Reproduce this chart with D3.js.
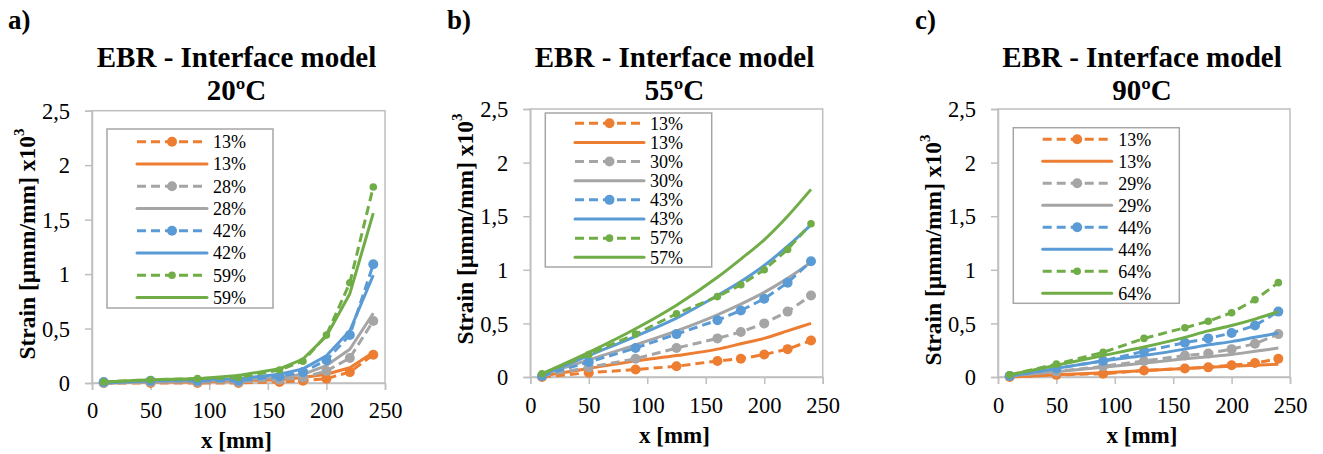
<!DOCTYPE html>
<html>
<head>
<meta charset="utf-8">
<script src="https://cdn.jsdelivr.net/npm/d3@7/dist/d3.min.js"></script>
<style>
  html, body { margin: 0; padding: 0; background: #ffffff; }
  svg { display: block; }
</style>
</head>
<body>
<svg id="chart" width="1323" height="454"></svg>
<script>
// ---- data -------------------------------------------------------------
// measurement / model positions along the bonded length [mm]
const xPositions = [10, 50, 90, 125, 160, 180, 200, 220, 240];
const xTickValues = [0, 50, 100, 150, 200, 250];
const yTickValues = [0, 0.5, 1, 1.5, 2, 2.5];
const yTickLabels = ["0", "0,5", "1", "1,5", "2", "2,5"];

const panelLetters = ["a)", "b)", "c)"];
const panelTemps = ["20ºC", "55ºC", "90ºC"];

// load levels for each temperature
const levels20 = ["13%", "28%", "42%", "59%"];
const levels55 = ["13%", "30%", "43%", "57%"];
const levels90 = ["13%", "29%", "44%", "64%"];

// 20ºC: experimental (dashed + markers) and model (solid) strains, x10^3
const exp20_13 = [0.00, 0.00, 0.00, 0.00, 0.01, 0.02, 0.04, 0.10, 0.26];
const mod20_13 = [0.00, 0.01, 0.01, 0.02, 0.03, 0.05, 0.08, 0.14, 0.28];
const exp20_28 = [0.00, 0.01, 0.01, 0.01, 0.03, 0.05, 0.11, 0.23, 0.57];
const mod20_28 = [0.00, 0.01, 0.02, 0.03, 0.05, 0.08, 0.16, 0.31, 0.64];
const exp20_42 = [0.01, 0.02, 0.02, 0.02, 0.06, 0.10, 0.21, 0.44, 1.09];
const mod20_42 = [0.00, 0.02, 0.03, 0.04, 0.08, 0.13, 0.25, 0.48, 0.99];
const exp20_59 = [0.01, 0.03, 0.04, 0.05, 0.12, 0.20, 0.44, 0.92, 1.80];
const mod20_59 = [0.01, 0.03, 0.04, 0.07, 0.13, 0.22, 0.43, 0.82, 1.56];

// 55ºC
const exp55_13 = [0.00, 0.04, 0.07, 0.10, 0.15, 0.17, 0.21, 0.26, 0.34];
const mod55_13 = [0.01, 0.08, 0.15, 0.20, 0.26, 0.31, 0.36, 0.43, 0.50];
const exp55_30 = [0.01, 0.09, 0.17, 0.27, 0.36, 0.42, 0.50, 0.61, 0.76];
const mod55_30 = [0.02, 0.16, 0.30, 0.43, 0.58, 0.68, 0.79, 0.92, 1.07];
const exp55_43 = [0.01, 0.14, 0.27, 0.40, 0.53, 0.62, 0.73, 0.88, 1.08];
const mod55_43 = [0.02, 0.20, 0.38, 0.55, 0.76, 0.89, 1.04, 1.22, 1.42];
const exp55_57 = [0.03, 0.21, 0.40, 0.59, 0.75, 0.86, 1.00, 1.19, 1.43];
const mod55_57 = [0.03, 0.23, 0.45, 0.67, 0.93, 1.10, 1.28, 1.50, 1.75];

// 90ºC
const exp90_13 = [0.00, 0.02, 0.03, 0.06, 0.08, 0.09, 0.11, 0.13, 0.17];
const mod90_13 = [0.00, 0.02, 0.04, 0.06, 0.08, 0.09, 0.10, 0.11, 0.12];
const exp90_29 = [0.01, 0.05, 0.10, 0.15, 0.20, 0.22, 0.26, 0.31, 0.40];
const mod90_29 = [0.01, 0.05, 0.09, 0.13, 0.17, 0.19, 0.21, 0.24, 0.27];
const exp90_44 = [0.01, 0.08, 0.15, 0.24, 0.32, 0.36, 0.41, 0.48, 0.61];
const mod90_44 = [0.01, 0.08, 0.15, 0.20, 0.26, 0.30, 0.33, 0.37, 0.41];
const exp90_64 = [0.02, 0.12, 0.23, 0.36, 0.46, 0.52, 0.60, 0.72, 0.88];
const mod90_64 = [0.02, 0.11, 0.20, 0.28, 0.37, 0.43, 0.48, 0.54, 0.61];

const seriesColors = ["#ED7D31", "#A5A5A5", "#5B9BD5", "#70AD47"];

// ---- layout -------------------------------------------------------------
const panels = [
  { letter: panelLetters[0], temp: panelTemps[0], levels: levels20,
    exp: [exp20_13, exp20_28, exp20_42, exp20_59],
    mod: [mod20_13, mod20_28, mod20_42, mod20_59],
    left: 92, right: 385, top: 110.7, bottom: 383, smooth: false,
    letterX: 8, ylabX: 27, ylabY: 244, xTickBase: 418, xLabBase: 448,
    legend: { x0: 107, x1: 273, y0: 129, y1: 308, row0: 141.7, step: 22.27, l0: 137, l1: 207, tx: 213 } },
  { letter: panelLetters[1], temp: panelTemps[1], levels: levels55,
    exp: [exp55_13, exp55_30, exp55_43, exp55_57],
    mod: [mod55_13, mod55_30, mod55_43, mod55_57],
    left: 530.3, right: 822.7, top: 109, bottom: 377, smooth: true,
    letterX: 447, ylabX: 465, ylabY: 229, xTickBase: 412.5, xLabBase: 443,
    legend: { x0: 545.3, x1: 711.7, y0: 113, y1: 267, row0: 123.3, step: 19.14, l0: 575, l1: 644, tx: 650 } },
  { letter: panelLetters[2], temp: panelTemps[2], levels: levels90,
    exp: [exp90_13, exp90_29, exp90_44, exp90_64],
    mod: [mod90_13, mod90_29, mod90_44, mod90_64],
    left: 998, right: 1290, top: 109, bottom: 377, smooth: true,
    letterX: 915, ylabX: 933, ylabY: 250, xTickBase: 413, xLabBase: 443,
    legend: { x0: 1013.3, x1: 1179.3, y0: 127.7, y1: 303.3, row0: 139.3, step: 22, l0: 1042.7, l1: 1111.7, tx: 1118.3 } }
];

const FONT = "'Liberation Serif', 'Times New Roman', Times, serif";
const svg = d3.select("#chart");
const axisGray = "#BFBFBF";
const dash = "9,5";
const lineW = 3;

function markerR(i) { return i === 3 ? 3.8 : 5; }

function label(sel, size, bold) {
  return sel.style("font-family", FONT).style("font-size", size + "px")
    .style("font-weight", bold ? "bold" : "normal").style("fill", "#000");
}

panels.forEach(p => {
  const g = svg.append("g");
  const x = d3.scaleLinear().domain([0, 250]).range([p.left, p.right]);
  const y = d3.scaleLinear().domain([0, 2.5]).range([p.bottom, p.top]);
  const cx = (p.left + p.right) / 2 - 2;

  // panel letter
  label(g.append("text").attr("x", p.letterX).attr("y", 29), 27, true).text(p.letter);

  // title
  label(g.append("text").attr("x", cx).attr("y", 67).attr("text-anchor", "middle"), 29, true)
    .text("EBR - Interface model");
  label(g.append("text").attr("x", cx).attr("y", 99.5).attr("text-anchor", "middle"), 29, true)
    .text(p.temp);

  // plot frame
  g.append("rect").attr("x", p.left).attr("y", p.top)
    .attr("width", p.right - p.left).attr("height", p.bottom - p.top)
    .attr("fill", "none").attr("stroke", axisGray).attr("stroke-width", 1.5);

  // axes
  const yAxis = d3.axisLeft(y).tickValues(yTickValues).tickSize(7)
    .tickFormat((d, i) => yTickLabels[i]);
  const ya = g.append("g").attr("transform", `translate(${p.left},0)`).call(yAxis);
  const xAxis = d3.axisBottom(x).tickValues(xTickValues).tickSize(7).tickFormat(d3.format("d"));
  const xa = g.append("g").attr("transform", `translate(0,${p.bottom})`).call(xAxis);
  [ya, xa].forEach(a => {
    a.attr("font-family", null).attr("font-size", null);
    a.select(".domain").attr("stroke", axisGray).attr("stroke-width", 1.5);
    a.selectAll(".tick line").attr("stroke", axisGray).attr("stroke-width", 1.5);
    label(a.selectAll("text"), 22.5, false);
  });
  ya.selectAll("text").attr("x", -22).attr("dy", "0.34em");
  xa.selectAll("text").attr("dy", null).attr("y", p.xTickBase - p.bottom);

  // axis titles
  label(g.append("text").attr("x", cx).attr("y", p.xLabBase).attr("text-anchor", "middle"), 23, true)
    .text("x [mm]");
  const yl = label(g.append("text")
    .attr("transform", `translate(${p.ylabX},${p.ylabY}) rotate(-90)`)
    .attr("text-anchor", "middle").attr("dominant-baseline", "central"), 23.5, true);
  yl.append("tspan").text("Strain [µmm/mm] x10");
  yl.append("tspan").attr("dy", -8).style("font-size", "15px").text("3");

  // series
  const straight = d3.line().x((d, i) => x(xPositions[i])).y(d => y(d));
  const curved = d3.line().x((d, i) => x(xPositions[i])).y(d => y(d))
    .curve(p.smooth ? d3.curveMonotoneX : d3.curveLinear);

  for (let s = 0; s < 4; s++) {
    const col = seriesColors[s];
    g.append("path").attr("d", straight(p.exp[s])).attr("fill", "none")
      .attr("stroke", col).attr("stroke-width", lineW).attr("stroke-dasharray", dash)
      .attr("stroke-linejoin", "round");
    g.selectAll(null).data(p.exp[s]).enter().append("circle")
      .attr("cx", (d, i) => x(xPositions[i])).attr("cy", d => y(d))
      .attr("r", markerR(s)).attr("fill", col);
    g.append("path").attr("d", curved(p.mod[s])).attr("fill", "none")
      .attr("stroke", col).attr("stroke-width", lineW).attr("stroke-linejoin", "round");
  }

  // legend
  const L = p.legend;
  const lg = g.append("g");
  lg.append("rect").attr("x", L.x0).attr("y", L.y0)
    .attr("width", L.x1 - L.x0).attr("height", L.y1 - L.y0)
    .attr("fill", "#fff").attr("stroke", "#A6A6A6").attr("stroke-width", 1.5);
  for (let s = 0; s < 4; s++) {
    const col = seriesColors[s];
    const yE = L.row0 + (2 * s) * L.step;
    const yM = L.row0 + (2 * s + 1) * L.step;
    lg.append("line").attr("x1", L.l0).attr("x2", L.l1).attr("y1", yE).attr("y2", yE)
      .attr("stroke", col).attr("stroke-width", lineW).attr("stroke-dasharray", dash);
    lg.append("circle").attr("cx", (L.l0 + L.l1) / 2).attr("cy", yE)
      .attr("r", markerR(s)).attr("fill", col);
    label(lg.append("text").attr("x", L.tx).attr("y", yE).attr("dy", "0.35em"), 18, false)
      .text(p.levels[s]);
    lg.append("line").attr("x1", L.l0).attr("x2", L.l1).attr("y1", yM).attr("y2", yM)
      .attr("stroke", col).attr("stroke-width", lineW).attr("stroke-linecap", "round");
    label(lg.append("text").attr("x", L.tx).attr("y", yM).attr("dy", "0.35em"), 18, false)
      .text(p.levels[s]);
  }
});
</script>
</body>
</html>
